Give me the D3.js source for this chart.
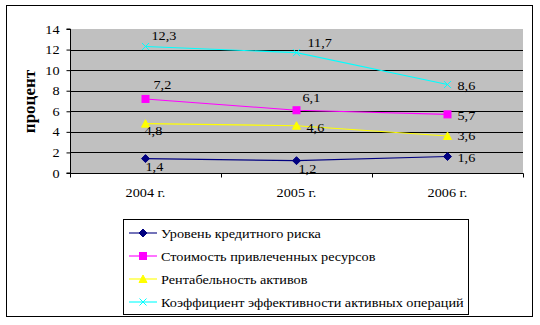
<!DOCTYPE html>
<html>
<head>
<meta charset="utf-8">
<script src="https://cdn.jsdelivr.net/npm/d3@7"></script>
<style>
  html, body { margin: 0; padding: 0; background: #fff; }
  svg { display: block; }
</style>
</head>
<body>
<svg id="chart" width="540" height="325"></svg>
<script>
// Years on the category axis
const categories = ["2004 г.", "2005 г.", "2006 г."];

// Series values, percent
const creditRisk    = [1.4, 1.2, 1.6];
const resourceCost  = [7.2, 6.1, 5.7];
const assetReturn   = [4.8, 4.6, 3.6];
const efficiency    = [12.3, 11.7, 8.6];

const seriesNames = [
  "Уровень кредитного риска",
  "Стоимость привлеченных ресурсов",
  "Рентабельность активов",
  "Коэффициент эффективности активных операций"
];

const yTicks = [0, 2, 4, 6, 8, 10, 12, 14];
const yTitle = "процент";

const FONT = "Liberation Serif";
const FS = 12.5;      // base text size
const SX = 1.14;      // horizontal stretch of the text glyphs

const series = [
  { name: seriesNames[0], values: creditRisk,   color: "#000080", marker: "diamond" },
  { name: seriesNames[1], values: resourceCost, color: "#FF00FF", marker: "square" },
  { name: seriesNames[2], values: assetReturn,  color: "#FFFF00", marker: "triangle" },
  { name: seriesNames[3], values: efficiency,   color: "#00FFFF", marker: "cross" }
];

// Value label offsets (dx, dy) relative to each point, per series
const labelOffsets = [
  [[0, 12], [2, 12], [10, 5]],
  [[8, -10], [6, -8], [10, 6]],
  [[-1, 11], [10, 6], [10, 4.5]],
  [[6, -6], [11, -6], [10, 5]]
];

const svg = d3.select("#chart");

// Places a text with its anchor at (px, py), stretched horizontally
function addText(parent, px, py, str, anchor) {
  return parent.append("text")
    .attr("transform", `translate(${px},${py}) scale(${SX},1)`)
    .attr("text-anchor", anchor || "start")
    .attr("font-family", FONT)
    .attr("font-size", FS)
    .attr("fill", "#000")
    .text(str);
}

// Outer frame
svg.append("rect")
  .attr("x", 6.5).attr("y", 5.5).attr("width", 526).attr("height", 311)
  .attr("fill", "#fff").attr("stroke", "#000");

const plot = { left: 70, right: 523, top: 29, bottom: 173 };

const x = d3.scaleBand().domain(categories).range([plot.left, plot.right]).padding(0);
const y = d3.scaleLinear().domain([0, 14]).range([plot.bottom, plot.top]);

// Plot background
svg.append("rect")
  .attr("x", plot.left).attr("y", plot.top)
  .attr("width", plot.right - plot.left).attr("height", plot.bottom - plot.top)
  .attr("fill", "#C0C0C0");

// Horizontal gridlines
svg.append("g")
  .selectAll("line")
  .data(yTicks.filter(t => t > 0 && t < 14))
  .join("line")
  .attr("x1", plot.left).attr("x2", plot.right)
  .attr("y1", d => Math.round(y(d)) + 0.5).attr("y2", d => Math.round(y(d)) + 0.5)
  .attr("stroke", "#000");

// Y axis
const yAxis = svg.append("g")
  .attr("transform", `translate(${plot.left + 0.5},0)`)
  .call(d3.axisLeft(y).tickValues(yTicks).tickSize(4).tickPadding(7).tickFormat(d3.format("d")));
yAxis.attr("font-family", FONT).attr("font-size", FS);
yAxis.selectAll(".tick text")
  .attr("font-family", FONT).attr("font-size", FS).attr("fill", "#000")
  .attr("x", -11 / SX)
  .attr("transform", `scale(${SX},1)`);
yAxis.selectAll("line, path").attr("stroke", "#000");
yAxis.select(".domain").attr("d", `M-4,${y(14)}H0V${y(0)}H-4`);

// X axis with ticks on category boundaries
const xAxisG = svg.append("g").attr("transform", `translate(0,${plot.bottom + 0.5})`);
xAxisG.append("line")
  .attr("x1", plot.left).attr("x2", plot.right + 0.5)
  .attr("y1", 0).attr("y2", 0).attr("stroke", "#000");
const boundaries = categories.map(c => x(c)).concat([plot.right]);
xAxisG.selectAll("line.tk")
  .data(boundaries)
  .join("line").attr("class", "tk")
  .attr("x1", d => Math.round(d) + 0.5).attr("x2", d => Math.round(d) + 0.5)
  .attr("y1", 0).attr("y2", 4).attr("stroke", "#000");
categories.forEach(c => addText(xAxisG, x(c) + x.bandwidth() / 2, 23.5, c, "middle"));

// Y axis title
svg.append("text")
  .attr("transform", `translate(35,${(plot.top + plot.bottom) / 2 + 0.5}) rotate(-90)`)
  .attr("text-anchor", "middle")
  .attr("font-family", FONT)
  .attr("font-size", 17).attr("font-weight", "bold")
  .text(yTitle);

const cx = c => x(c) + x.bandwidth() / 2;

function drawMarker(g, type, color, px, py) {
  if (type === "diamond") {
    g.append("path").attr("d", `M${px},${py - 4}L${px + 4},${py}L${px},${py + 4}L${px - 4},${py}Z`)
      .attr("fill", color).attr("stroke", color);
  } else if (type === "square") {
    g.append("rect").attr("x", px - 3.5).attr("y", py - 3.5).attr("width", 7).attr("height", 7)
      .attr("fill", color).attr("stroke", color);
  } else if (type === "triangle") {
    g.append("path").attr("d", `M${px},${py - 4}L${px + 4},${py + 3.5}L${px - 4},${py + 3.5}Z`)
      .attr("fill", color).attr("stroke", color);
  } else {
    g.append("path").attr("d", `M${px - 3.5},${py - 3.5}L${px + 3.5},${py + 3.5}M${px + 3.5},${py - 3.5}L${px - 3.5},${py + 3.5}`)
      .attr("stroke", color).attr("fill", "none");
  }
}

const line = d3.line().x((d, i) => cx(categories[i])).y(d => y(d));
const fmt = v => String(v).replace(".", ",");

series.forEach((s, si) => {
  const g = svg.append("g");
  g.append("path").datum(s.values).attr("d", line)
    .attr("fill", "none").attr("stroke", s.color).attr("stroke-width", 1.1);
  s.values.forEach((v, i) => drawMarker(g, s.marker, s.color, cx(categories[i]), y(v)));
  s.values.forEach((v, i) => addText(g,
    cx(categories[i]) + labelOffsets[si][i][0],
    y(v) + labelOffsets[si][i][1],
    fmt(v)));
});

// Legend
const legend = svg.append("g");
legend.append("rect")
  .attr("x", 123.5).attr("y", 219.5).attr("width", 345).attr("height", 95)
  .attr("fill", "#fff").attr("stroke", "#000");
series.forEach((s, i) => {
  const ly = 233 + i * 23;
  const item = legend.append("g");
  item.append("line").attr("x1", 129).attr("x2", 157).attr("y1", ly).attr("y2", ly)
    .attr("stroke", s.color).attr("stroke-width", 1.1);
  drawMarker(item, s.marker, s.color, 143, ly);
  addText(item, 161, ly + 4.5, s.name);
});
</script>
</body>
</html>
